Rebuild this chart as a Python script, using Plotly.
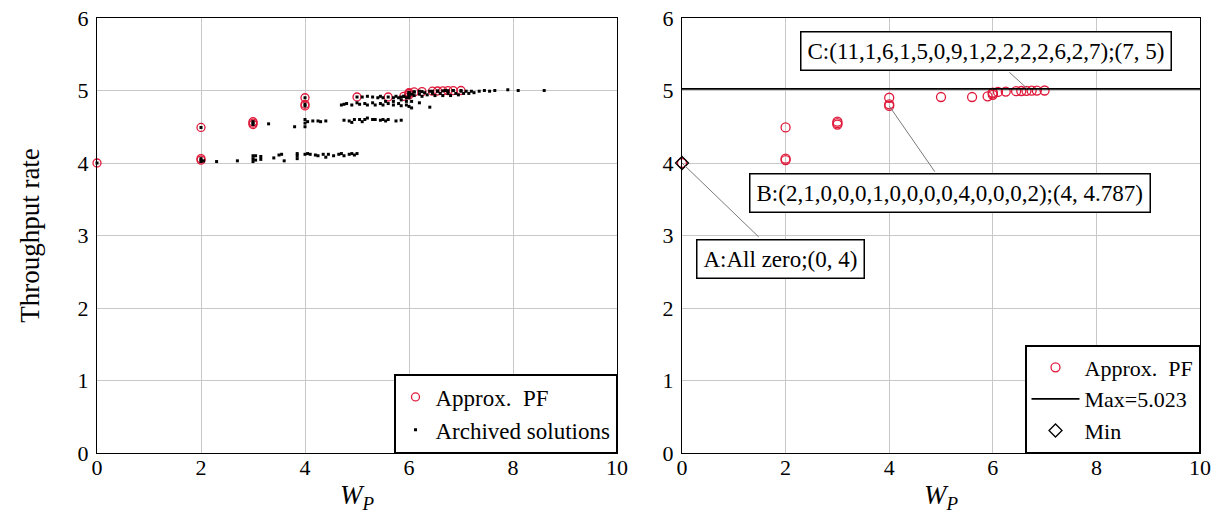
import plotly.graph_objects as go

FONT = "Liberation Serif"
RED = "#e0193a"

# Approximate Pareto front (W_P, throughput rate)
pf_w = [0, 2, 2, 2, 3, 3, 3, 4, 4, 4, 5, 5.6, 5.9, 6.0, 6.0, 6.0, 6.1, 6.25, 6.45, 6.55, 6.65, 6.75, 6.85, 7.0]
pf_thr = [4.0, 4.49, 4.06, 4.04, 4.57, 4.55, 4.53, 4.9, 4.81, 4.787, 4.91, 4.91, 4.92, 4.94, 4.96, 4.97,
          4.98, 4.985, 4.99, 4.993, 4.995, 4.997, 4.999, 5.0]

# Archived solutions (other than the PF members)
arch_w = [2.0, 2.05, 2.3, 2.7, 3.0, 3.0, 3.0, 3.05, 3.05, 3.15, 3.15, 3.4, 3.5, 3.55, 3.6, 3.85, 3.85, 3.85,
          4.0, 4.05, 4.1, 4.2, 4.25, 4.35, 4.4, 4.45, 4.55, 4.65, 4.7, 4.75, 4.85, 4.9, 4.95, 5.0,
          3.3, 3.8, 4.0, 4.0, 4.0, 4.05, 4.15, 4.25, 4.3, 4.4, 4.75, 4.85, 4.9, 4.95, 5.05, 5.1, 5.15, 5.2,
          5.3, 5.35, 5.45, 5.5, 5.55, 5.6, 5.75, 5.85,
          4.7, 4.75, 4.8, 4.9, 5.0, 5.05, 5.15, 5.2, 5.3, 5.35, 5.45, 5.5, 5.55, 5.6, 5.7, 5.7, 5.8, 5.85,
          5.85, 5.95, 5.95, 6.0, 6.0, 6.05, 6.05, 6.2, 6.4,
          5.1, 5.2, 5.3, 5.4, 5.45, 5.5, 5.7, 5.75, 5.8, 5.85, 5.9, 5.95, 6.0, 6.0, 6.05, 6.1, 6.1, 6.2, 6.2,
          6.25, 6.3, 6.35, 6.4, 6.45, 6.5, 6.55, 6.6, 6.65, 6.7, 6.75, 6.8, 6.85, 6.9, 6.95, 7.0, 7.05, 7.1,
          7.15, 7.2, 7.25, 7.35, 7.45, 7.55, 7.65, 7.9, 8.1, 8.6]
arch_thr = [4.02, 4.03, 4.02, 4.03, 4.02, 4.06, 4.1, 4.04, 4.1, 4.05, 4.09, 4.07, 4.11, 4.12, 4.03, 4.06, 4.1, 4.13,
            4.12, 4.13, 4.12, 4.11, 4.1, 4.12, 4.08, 4.12, 4.1, 4.12, 4.13, 4.1, 4.12, 4.13, 4.11, 4.13,
            4.54, 4.5, 4.5, 4.55, 4.6, 4.57, 4.58, 4.58, 4.57, 4.58, 4.59, 4.58, 4.56, 4.6, 4.6, 4.57, 4.6, 4.62,
            4.6, 4.6, 4.59, 4.6, 4.58, 4.6, 4.58, 4.59,
            4.8, 4.81, 4.82, 4.8, 4.83, 4.81, 4.82, 4.8, 4.83, 4.8, 4.82, 4.8, 4.85, 4.82, 4.8, 4.85, 4.82, 4.79,
            4.87, 4.8, 4.85, 4.78, 4.9, 4.76, 4.85, 4.83, 4.77,
            4.91, 4.92, 4.91, 4.9, 4.92, 4.9, 4.9, 4.92, 4.9, 4.91, 4.92, 4.9, 4.93, 4.97, 4.95, 4.93, 4.98, 4.95, 4.99,
            4.92, 4.97, 4.94, 4.99, 4.96, 4.93, 4.99, 4.96, 4.93, 5.0, 4.96, 4.93, 5.0, 4.96, 4.94, 4.99, 4.96, 4.99,
            4.96, 4.99, 4.97, 4.99, 5.0, 4.99, 5.0, 5.01, 5.0, 5.0]

max_thr = 5.023
min_w = [0]
min_thr = [4.0]

x_ticks = [0, 2, 4, 6, 8, 10]
y_ticks = [0, 1, 2, 3, 4, 5, 6]

fig = go.Figure()

# Left panel
fig.add_trace(go.Scatter(
    x=pf_w, y=pf_thr, mode="markers", name="Approx.&nbsp; PF",
    marker=dict(symbol="circle-open", size=8, color=RED, line=dict(width=1.3)),
    xaxis="x", yaxis="y", legend="legend", cliponaxis=False))
fig.add_trace(go.Scatter(
    x=arch_w + pf_w, y=arch_thr + pf_thr, mode="markers", name="Archived solutions",
    marker=dict(symbol="square", size=3, color="black", line=dict(width=0)),
    xaxis="x", yaxis="y", legend="legend", cliponaxis=False))

# Right panel
fig.add_trace(go.Scatter(
    x=pf_w, y=pf_thr, mode="markers", name="Approx.&nbsp; PF",
    marker=dict(symbol="circle-open", size=9, color=RED, line=dict(width=1.3)),
    xaxis="x2", yaxis="y2", legend="legend2", cliponaxis=False))
fig.add_trace(go.Scatter(
    x=[0, 10], y=[max_thr, max_thr], mode="lines", name="Max=5.023",
    line=dict(color="black", width=1.7),
    xaxis="x2", yaxis="y2", legend="legend2"))
fig.add_trace(go.Scatter(
    x=min_w, y=min_thr, mode="markers", name="Min",
    marker=dict(symbol="diamond-open", size=10, color="black", line=dict(width=1.3)),
    xaxis="x2", yaxis="y2", legend="legend2", cliponaxis=False))

tickfont = dict(family=FONT, size=22, color="black")
xcommon = dict(range=[0, 10], tickvals=x_ticks, showgrid=True, gridcolor="#c8c8c8", gridwidth=1,
               showline=True, linecolor="black", linewidth=1.3, mirror=True, zeroline=False,
               tickfont=tickfont, ticks="", automargin=False, ticklabelstandoff=-6,
               ticklabeloverflow="allow",
               title=dict(text="<i>W</i><sub><i>P</i></sub>", font=dict(family=FONT, size=27, color="black"),
                          standoff=6))
ycommon = dict(range=[0, 6], tickvals=y_ticks, showgrid=True, gridcolor="#c8c8c8", gridwidth=1,
               showline=True, linecolor="black", linewidth=1.3, mirror=True, zeroline=False,
               tickfont=tickfont, ticks="", ticklabelstandoff=3, automargin=False,
               ticklabeloverflow="allow")

legend_common = dict(bgcolor="white", bordercolor="black", borderwidth=1.5,
                     xanchor="right", yanchor="bottom", y=0, tracegroupgap=0)

ann_font = dict(family=FONT, size=23, color="black")
box = dict(bgcolor="white", bordercolor="black", borderwidth=1.5, borderpad=6, font=ann_font,
           showarrow=False, xref="x2", yref="y2")
line_ann = dict(text="", showarrow=True, arrowhead=0, arrowwidth=1, arrowcolor="#7a7a7a",
                xref="x2", yref="y2", axref="x2", ayref="y2")

annotations = [
    dict(x=6.66, y=5.03, ax=6.29, ay=5.27, **line_ann),
    dict(x=4.0, y=4.787, ax=4.90, ay=3.86, **line_ann),
    dict(x=0.0, y=4.0, ax=1.51, ay=2.96, **line_ann),
    dict(x=5.87, y=5.55, text="C:(11,1,6,1,5,0,9,1,2,2,2,2,6,2,7);(7, 5)", **box),
    dict(x=5.18, y=3.59, text="B:(2,1,0,0,0,1,0,0,0,0,4,0,0,0,2);(4, 4.787)", **box),
    dict(x=1.91, y=2.68, text="A:All zero;(0, 4)", **box),
]

W = 1222
fig.update_layout(
    width=W, height=519,
    margin=dict(l=0, r=0, t=18, b=66, autoexpand=False),
    paper_bgcolor="white", plot_bgcolor="white",
    font=dict(family=FONT, color="black"),
    xaxis=dict(domain=[97 / W, 617 / W], anchor="y", **xcommon),
    yaxis=dict(domain=[0, 1], anchor="x",
               title=dict(text="Throughput rate", font=dict(family=FONT, size=27, color="black"), standoff=30),
               **ycommon),
    xaxis2=dict(domain=[682 / W, 1200 / W], anchor="y2", **xcommon),
    yaxis2=dict(domain=[0, 1], anchor="x2", **ycommon),
    legend=dict(x=617 / W, itemwidth=30, font=dict(family=FONT, size=23, color="black"), **legend_common),
    legend2=dict(x=1200 / W, itemwidth=48, font=dict(family=FONT, size=22, color="black"), **legend_common),
    annotations=annotations,
    showlegend=True,
)

fig.write_html("out.html", config={"displayModeBar": False},
               post_script="document.body.style.margin='0';")
